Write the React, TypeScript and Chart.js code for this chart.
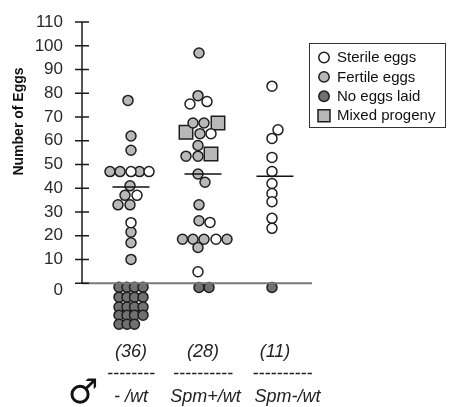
import React, { useEffect, useRef } from "react";
import { Chart, registerables } from "chart.js";

Chart.register(...registerables);

// ---------- data ----------
const categories = ["- /wt", "Spm+/wt", "Spm-/wt"];
const sampleSizes = ["(36)", "(28)", "(11)"];
const separators = ["--------", "----------", "----------"];
const yTicks = [0, 10, 20, 30, 40, 50, 60, 70, 80, 90, 100, 110];
const groupMeans = [40.5, 46, 45];

// values per genotype group; jitter = horizontal offset in dot widths
const sterileValues = [
  [47, 47, 37, 25.5],
  [76.5, 75.5, 63, 25.6, 18.5, 4.8],
  [83, 64.6, 61, 53, 47, 42, 37.8, 34.3, 27.3, 23.1],
];
const sterileJitter = [
  [0, 1.8, 0.6, 0],
  [0.4, -1.3, 0.8, 0.7, 1.3, -0.5],
  [-0.3, 0.3, -0.3, -0.3, -0.3, -0.3, -0.3, -0.3, -0.3, -0.3],
];

const fertileValues = [
  [77, 62, 56, 47, 47, 47, 41, 37, 33, 33, 21.5, 17, 10],
  [97, 79, 67.5, 67.5, 63, 58, 53.5, 53.5, 46, 42.5, 33, 26.3, 18.5, 18.5, 18.5, 18.5, 15],
  [],
];
const fertileJitter = [
  [-0.3, 0, 0, -2.1, -1.1, 0.85, -0.1, -0.6, -1.3, -0.1, 0, 0, 0],
  [-0.4, -0.5, -1.0, 0.1, -0.3, -0.5, -1.7, -0.5, -0.5, 0.2, -0.4, -0.4, -2.05, -1.0, 0.1, 2.4, -0.5],
  [],
];

// "no eggs laid" (0 eggs) dots are stacked below the zero line
const noEggsValues = [
  [-1.7, -1.7, -1.7, -1.7, -5.9, -5.9, -5.9, -5.9, -10.1, -10.1, -10.1, -10.1, -13.5, -13.5, -13.5, -13.5, -17.3, -17.3, -17.3],
  [-1.8, -1.8],
  [-1.8],
];
const noEggsJitter = [
  [-1.2, -0.4, 0.35, 1.2, -1.2, -0.4, 0.35, 1.2, -1.2, -0.4, 0.35, 1.2, -1.2, -0.4, 0.35, 1.2, -1.2, -0.4, 0.35],
  [-0.4, 0.6],
  [-0.3],
];

const mixedValues = [[], [67.5, 63.6, 54.4], []];
const mixedJitter = [[], [1.5, -1.7, 0.8], []];

const legendLabels = ["Sterile eggs", "Fertile eggs", "No eggs laid", "Mixed progeny"];

// ---------- styles ----------
const FONT = "'Liberation Sans', Arial, Helvetica, sans-serif";
const DOT = 10 / 72; // one dot width in category units
const X_MIN = 0.3194;
const X_MAX = 3.514;
const MEAN_HALF = 0.257;
const EDGE = "#1e1e1e";
const WHITE = "#ffffff";
const LIGHT = "#b8b8b8";
const DARK = "#717171";
// small leading indents that reproduce the slightly off-centre labels
const sepIndent = ["", "", "   "];
const catIndent = ["", " ", "     "];

function toPoints(values: number[][], jitter: number[][]) {
  const pts: { x: number; y: number }[] = [];
  values.forEach((arr, g) => {
    arr.forEach((v, i) => {
      pts.push({ x: g + 1 + jitter[g][i] * DOT, y: v });
    });
  });
  return pts;
}

const decorPlugin = {
  id: "decor",
  afterDatasetsDraw(chart: any) {
    const { ctx, chartArea, scales } = chart;
    const y = scales.y;
    const x0 = chartArea.left;
    ctx.save();
    // y axis line and crossing ticks
    ctx.strokeStyle = "#1a1a1a";
    ctx.lineWidth = 1.5;
    ctx.beginPath();
    ctx.moveTo(x0, y.getPixelForValue(0));
    ctx.lineTo(x0, y.getPixelForValue(yTicks[yTicks.length - 1]));
    yTicks.forEach((t) => {
      const py = y.getPixelForValue(t);
      ctx.moveTo(x0 - 7, py);
      ctx.lineTo(x0 + 7, py);
    });
    ctx.stroke();
    ctx.restore();
  },
  afterDraw(chart: any) {
    const { ctx } = chart;
    ctx.save();
    // y axis title
    ctx.fillStyle = "#111";
    ctx.font = `bold 14px ${FONT}`;
    ctx.textAlign = "center";
    ctx.textBaseline = "middle";
    ctx.translate(19, 121.5);
    ctx.rotate(-Math.PI / 2);
    ctx.fillText("Number of Eggs", 0, 0);
    ctx.restore();

    // male symbol
    ctx.save();
    ctx.fillStyle = "#111";
    ctx.font = `34px 'DejaVu Sans', sans-serif`;
    ctx.textAlign = "center";
    ctx.textBaseline = "middle";
    ctx.fillText("\u2642", 83, 394);
    ctx.restore();

    // legend
    ctx.save();
    ctx.strokeStyle = "#333";
    ctx.lineWidth = 1;
    ctx.strokeRect(309.5, 43.5, 136, 84);
    const fills = [WHITE, LIGHT, DARK, LIGHT];
    ctx.font = `15px ${FONT}`;
    ctx.textBaseline = "middle";
    ctx.textAlign = "left";
    legendLabels.forEach((lab, i) => {
      const cy = 57.5 + i * 19.4;
      ctx.fillStyle = fills[i];
      ctx.strokeStyle = EDGE;
      ctx.lineWidth = 1.5;
      ctx.beginPath();
      if (i < 3) {
        ctx.arc(324, cy, 5.2, 0, Math.PI * 2);
      } else {
        ctx.rect(318, cy - 6, 12, 12);
      }
      ctx.fill();
      ctx.stroke();
      ctx.fillStyle = "#111";
      ctx.fillText(lab, 337, cy + 0.5);
    });
    ctx.restore();
  },
};

export default function App() {
  const ref = useRef<HTMLCanvasElement | null>(null);

  useEffect(() => {
    if (!ref.current) return;
    Chart.defaults.font.family = FONT;

    const meanSets = groupMeans.map((m, g) => ({
      type: "line" as const,
      data: [
        { x: g + 1 - MEAN_HALF, y: m },
        { x: g + 1 + MEAN_HALF, y: m },
      ],
      borderColor: "#111",
      borderWidth: 1.5,
      pointRadius: 0,
      showLine: true,
      fill: false,
    }));

    const circleStyle = (fill: string) => ({
      backgroundColor: fill,
      borderColor: EDGE,
      borderWidth: 1.5,
      pointRadius: 5,
      pointHoverRadius: 5,
      pointStyle: "circle" as const,
    });

    const chart = new Chart(ref.current, {
      type: "scatter",
      data: {
        datasets: [
          ...meanSets,
          {
            type: "line" as const,
            data: [
              { x: X_MIN, y: 0 },
              { x: X_MAX, y: 0 },
            ],
            borderColor: "#7a7a7a",
            borderWidth: 2,
            pointRadius: 0,
            showLine: true,
            fill: false,
          },
          { label: legendLabels[0], data: toPoints(sterileValues, sterileJitter), ...circleStyle(WHITE) },
          { label: legendLabels[1], data: toPoints(fertileValues, fertileJitter), ...circleStyle(LIGHT) },
          { label: legendLabels[2], data: toPoints(noEggsValues, noEggsJitter), ...circleStyle(DARK) },
          {
            label: legendLabels[3],
            data: toPoints(mixedValues, mixedJitter),
            backgroundColor: LIGHT,
            borderColor: EDGE,
            borderWidth: 1.5,
            pointRadius: 9.5,
            pointHoverRadius: 9.5,
            pointStyle: "rect" as const,
          },
        ] as any,
      },
      options: {
        responsive: false,
        animation: false,
        events: [],
        layout: { padding: { top: 15, right: 137, bottom: 0, left: 0 } },
        plugins: {
          legend: { display: false },
          tooltip: { enabled: false },
          title: { display: false },
        },
        scales: {
          x: {
            type: "linear",
            min: X_MIN,
            max: X_MAX,
            grid: { display: false, drawTicks: false, tickLength: 0 },
            border: { display: false },
            afterBuildTicks: (scale: any) => {
              scale.ticks = categories.map((_, i) => ({ value: i + 1 }));
            },
            afterFit: (scale: any) => {
              scale.height = 76.4;
              scale.paddingLeft = 0;
              scale.paddingRight = 0;
            },
            ticks: {
              autoSkip: false,
              maxRotation: 0,
              minRotation: 0,
              padding: 10,
              color: "#222",
              font: { size: 18, style: "italic", lineHeight: 1.25 },
              callback: (v: any) => {
                const i = Math.round(Number(v)) - 1;
                return [sampleSizes[i], sepIndent[i] + separators[i], catIndent[i] + categories[i]];
              },
            },
          },
          y: {
            type: "linear",
            min: -20,
            max: 113,
            grid: { display: false, drawTicks: false, tickLength: 0 },
            border: { display: false },
            afterBuildTicks: (scale: any) => {
              scale.ticks = yTicks.map((v) => ({ value: v }));
            },
            afterFit: (scale: any) => {
              scale.width = 82;
              scale.paddingTop = 0;
              scale.paddingBottom = 0;
            },
            ticks: {
              autoSkip: false,
              padding: 19,
              color: "#2a2a2a",
              font: { size: 17, lineHeight: 0.85 },
              callback: (v: any) => (Number(v) === 0 ? ["", "0"] : String(v)),
            },
          },
        },
      },
      plugins: [decorPlugin],
    });

    return () => chart.destroy();
  }, []);

  return (
    <div style={{ position: "fixed", left: 0, top: 0, width: 449, height: 407, background: "#fff" }}>
      <canvas ref={ref} width={449} height={407} style={{ display: "block", width: 449, height: 407 }} />
    </div>
  );
}
